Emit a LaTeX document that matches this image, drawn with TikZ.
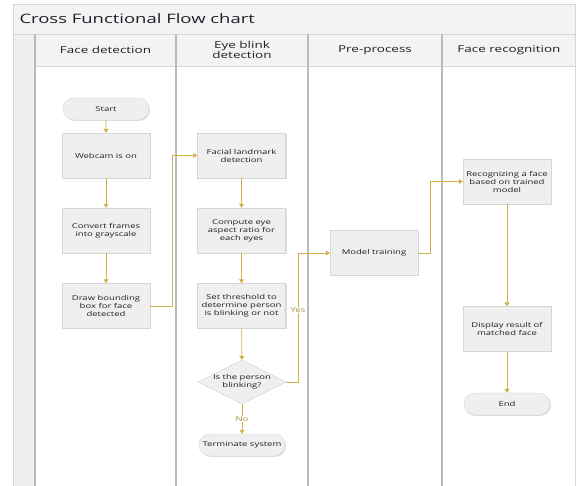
\documentclass[tikz,border=0pt]{standalone}
\usepackage{fontspec}
\setmainfont[FakeStretch=1.42]{Open Sans}
\usetikzlibrary{shapes.geometric,shapes.misc,arrows.meta,shadows}
\definecolor{gold}{HTML}{D2B048}
\definecolor{boxfill}{HTML}{EFEFEF}
\definecolor{boxline}{HTML}{D6D6D6}
\definecolor{laneline}{HTML}{B4BCBC}
\definecolor{hdrfill}{HTML}{F3F3F3}
\definecolor{txt}{HTML}{1E1E28}
\begin{document}
\begin{tikzpicture}[x=1pt,y=-1pt,
  every node/.style={text=txt},
  proc/.style={draw=boxline,fill=boxfill,minimum width=88pt,minimum height=45pt,
    align=center,font=\fontsize{6.7}{8}\selectfont,inner sep=1pt,
    drop shadow={shadow xshift=1pt,shadow yshift=-1pt,fill=black!25,opacity=0.5}},
  term/.style={draw=boxline,fill=boxfill,rounded rectangle,minimum width=88pt,minimum height=22pt,
    font=\fontsize{6.7}{8}\selectfont,inner sep=1pt,
    drop shadow={shadow xshift=1pt,shadow yshift=-1pt,fill=black!25,opacity=0.5}},
  dec/.style={draw=boxline,fill=boxfill,diamond,aspect=2,minimum width=88pt,minimum height=44pt,
    align=center,font=\fontsize{6.7}{8}\selectfont,inner sep=0pt},
  conn/.style={draw=gold,line width=0.7pt,-{Triangle[length=4pt,width=5pt]}},
  lane/.style={draw=laneline,line width=1.4pt},
  hdr/.style={font=\fontsize{9.5}{10}\selectfont,align=center},
  lab/.style={fill=white,inner sep=0.5pt,text=gold!80!black,font=\fontsize{6.7}{8}\selectfont}
]
\useasboundingbox (0,0) rectangle (576,486);
% frame
\fill[white] (13,4) rectangle (576,486);
\fill[hdrfill] (13,4) rectangle (576,34);
\fill[hdrfill] (35,34) rectangle (576,66);
\fill[boxfill] (13,34) rectangle (35,486);
\draw[draw=boxline,line width=0.8pt] (576,4) -- (13,4) -- (13,486);
\draw[draw=boxline,line width=0.8pt] (13,34) -- (576,34);
\draw[draw=boxline,line width=0.8pt] (35,66) -- (576,66);
\draw[lane] (35,34) -- (35,486);
\draw[lane] (176,34) -- (176,486);
\draw[lane] (308,34) -- (308,486);
\draw[lane] (442,34) -- (442,486);
\draw[draw=boxline,line width=0.8pt] (575.5,4) -- (575.5,486);
\node[anchor=west,font=\fontsize{13}{14}\selectfont] (title) at (16,18.5) {Cross Functional Flow chart};
\node[hdr] (h1) at (105.5,50) {Face detection};
\node[hdr] (h2) at (242,50) {Eye blink\\detection};
\node[hdr] (h3) at (375,50) {Pre-process};
\node[hdr] (h4) at (509,50) {Face recognition};
% nodes
\node[term] (start) at (106,109) {Start};
\node[proc] (webcam) at (106,155.5) {Webcam is on};
\node[proc] (convert) at (106,230.5) {Convert frames\\into grayscale};
\node[proc] (bbox) at (106,306) {Draw bounding\\box for face\\detected};
\node[proc] (facial) at (241.5,155.5) {Facial landmark\\detection};
\node[proc] (ear) at (241.5,230.5) {Compute eye\\aspect ratio for\\each eyes};
\node[proc] (thresh) at (241.5,306) {Set threshold to\\determine person\\is blinking or not};
\node[dec] (blink) at (242,382) {Is the person\\blinking?};
\node[term] (term) at (242,445) {Terminate system};
\node[proc] (model) at (374,253) {Model training};
\node[proc] (recog) at (507,181.5) {Recognizing a face\\based on trained\\model};
\node[proc] (disp) at (507,329) {Display result of\\matched face};
\node[term] (endn) at (507,404) {End};
% connectors
\draw[conn] (start) -- (webcam);
\draw[conn] (webcam) -- (convert);
\draw[conn] (convert) -- (bbox);
\draw[conn] (bbox.east) -- ++(22,0) |- (facial.west);
\draw[conn] (facial) -- (ear);
\draw[conn] (ear) -- (thresh);
\draw[conn] (thresh) -- (blink);
\draw[conn] (blink) -- node[lab] (nolab) {No} (term);
\draw[conn] (blink.east) -- ++(12,0) |- (model.west);
\node[lab] (yeslab) at (298,310) {Yes};
\draw[conn] (model.east) -- ++(12,0) |- (recog.west);
\draw[conn] (recog) -- (disp);
\draw[conn] (disp) -- (endn);
\end{tikzpicture}
\end{document}
